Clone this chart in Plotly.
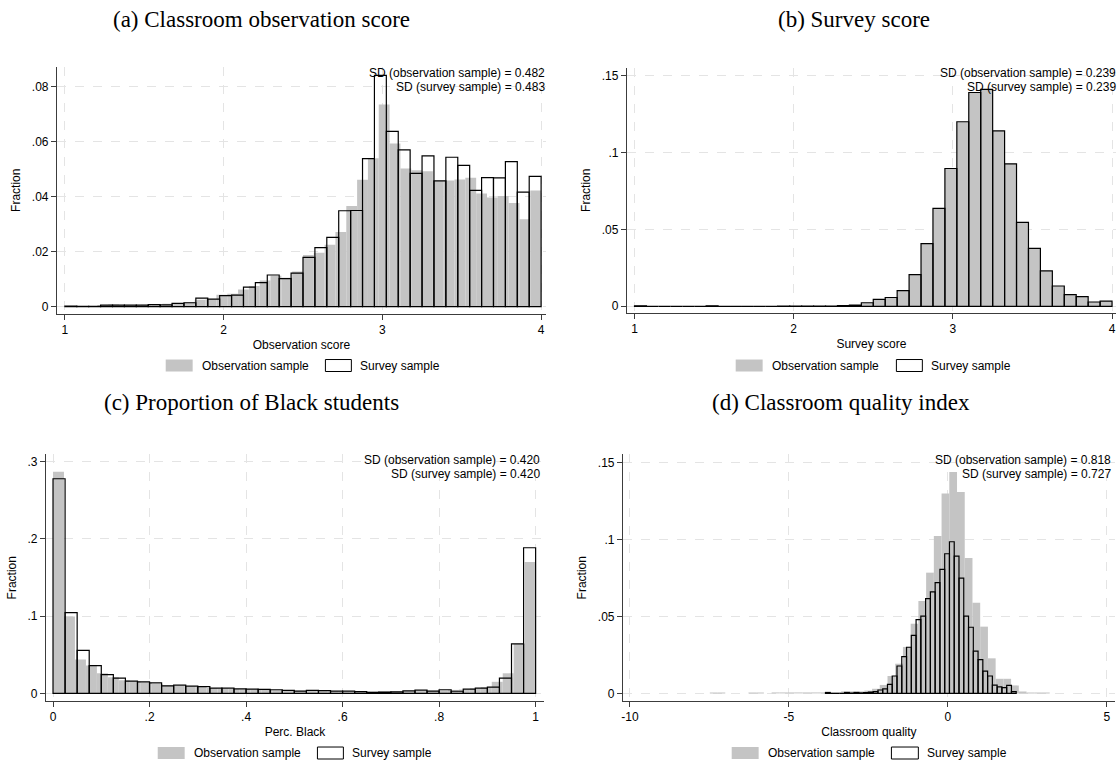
import plotly.graph_objects as go

W, H = 1119, 765

# ---------------- Data (fractions per histogram bin) ----------------
# Panel (a): Observation score
A_OBS_START, A_OBS_WIDTH = 1.0, 3.0 / 44
A_OBS = [0.0002, 0.0001, 0.0002, 0.0004, 0.0008, 0.0005, 0.0005, 0.0007, 0.0006, 0.0010,
         0.0013, 0.0017, 0.0025, 0.0027, 0.0043, 0.0047, 0.0062, 0.0075, 0.0095, 0.0112,
         0.0105, 0.0128, 0.0188, 0.0196, 0.0225, 0.0272, 0.0366, 0.0462, 0.0540, 0.0736,
         0.0594, 0.0503, 0.0497, 0.0493, 0.0458, 0.0459, 0.0463, 0.0469, 0.0412, 0.0397,
         0.0403, 0.0377, 0.0318, 0.0423]
A_SUR_START, A_SUR_WIDTH = 1.0, 0.075
A_SUR = [0.0002, 0.0001, 0.0001, 0.0005, 0.0005, 0.0005, 0.0005, 0.0007, 0.0006, 0.0012,
         0.0014, 0.0031, 0.0027, 0.0040, 0.0042, 0.0071, 0.0087, 0.0115, 0.0102, 0.0122,
         0.0179, 0.0215, 0.0252, 0.0349, 0.0350, 0.0539, 0.0842, 0.0638, 0.0571, 0.0485,
         0.0549, 0.0458, 0.0544, 0.0514, 0.0423, 0.0470, 0.0469, 0.0528, 0.0417, 0.0474]

# Panel (b): Survey score
B_OBS_START, B_OBS_WIDTH = 1.0, 0.075
B_OBS = [0.0003, 0.0, 0.0, 0.0, 0.0, 0.0, 0.0003, 0.0, 0.0, 0.0,
         0.0, 0.0, 0.0002, 0.0002, 0.0001, 0.0001, 0.0002, 0.0004, 0.0008, 0.0023,
         0.0045, 0.0057, 0.0102, 0.0206, 0.0408, 0.0636, 0.0896, 0.1200, 0.1390, 0.1410,
         0.1141, 0.0926, 0.0545, 0.0377, 0.0230, 0.0132, 0.0076, 0.0063, 0.0028, 0.0033]
B_SUR_START, B_SUR_WIDTH = 1.0, 0.075
B_SUR = [0.0003, 0.0, 0.0, 0.0, 0.0, 0.0, 0.0003, 0.0, 0.0, 0.0,
         0.0, 0.0, 0.0002, 0.0002, 0.0001, 0.0001, 0.0002, 0.0004, 0.0008, 0.0023,
         0.0045, 0.0057, 0.0102, 0.0206, 0.0408, 0.0636, 0.0896, 0.1200, 0.1390, 0.1410,
         0.1141, 0.0926, 0.0545, 0.0377, 0.0230, 0.0132, 0.0076, 0.0063, 0.0028, 0.0033]

# Panel (c): Proportion of Black students
C_OBS_START, C_OBS_WIDTH = 0.0, 1.0 / 44
C_OBS = [0.2870, 0.0996, 0.0440, 0.0360, 0.0260, 0.0210, 0.0170, 0.0155, 0.0140, 0.0120,
         0.0105, 0.0095, 0.0090, 0.0085, 0.0070, 0.0062, 0.0058, 0.0052, 0.0050, 0.0045,
         0.0042, 0.0035, 0.0035, 0.0038, 0.0030, 0.0028, 0.0025, 0.0022, 0.0020, 0.0018,
         0.0020, 0.0025, 0.0028, 0.0032, 0.0035, 0.0038, 0.0045, 0.0050, 0.0065, 0.0080,
         0.0150, 0.0260, 0.0640, 0.1700]
C_SUR_START, C_SUR_WIDTH = 0.0, 0.025
C_SUR = [0.2780, 0.1045, 0.0557, 0.0360, 0.0242, 0.0198, 0.0160, 0.0149, 0.0136, 0.0098,
         0.0106, 0.0093, 0.0088, 0.0067, 0.0067, 0.0058, 0.0056, 0.0052, 0.0047, 0.0038,
         0.0030, 0.0040, 0.0036, 0.0030, 0.0030, 0.0022, 0.0013, 0.0017, 0.0020, 0.0032,
         0.0041, 0.0030, 0.0047, 0.0028, 0.0056, 0.0069, 0.0082, 0.0198, 0.0642, 0.1886]

# Panel (d): Classroom quality index
D_OBS_START, D_OBS_WIDTH = -7.488, 0.243
D_OBS = [0.0004, 0.0004, 0.0, 0.0, 0.0, 0.0003, 0.0003, 0.0, 0.0003, 0.0003,
         0.0003, 0.0003, 0.0004, 0.0004, 0.0005, 0.0005, 0.0006, 0.0008, 0.0010, 0.0012,
         0.0018, 0.0030, 0.0055, 0.0113, 0.0193, 0.0302, 0.0453, 0.0600, 0.0785, 0.1023,
         0.1300, 0.1440, 0.1310, 0.0880, 0.0590, 0.0434, 0.0228, 0.0095, 0.0095, 0.0052,
         0.0008, 0.0006, 0.0006, 0.0004]
D_SUR_START, D_SUR_WIDTH = -3.85, 0.15
D_SUR = [0.0006, 0.0, 0.0, 0.0, 0.0006, 0.0002, 0.0006, 0.0003, 0.0005, 0.0008,
         0.0011, 0.0022, 0.0030, 0.0059, 0.0113, 0.0178, 0.0239, 0.0300, 0.0377, 0.0480,
         0.0503, 0.0616, 0.0660, 0.0720, 0.0806, 0.0908, 0.0986, 0.0893, 0.0750, 0.0503,
         0.0430, 0.0275, 0.0220, 0.0145, 0.0113, 0.0054, 0.0043, 0.0037, 0.0052, 0.0011]

TITLES = ["(a) Classroom observation score", "(b) Survey score",
          "(c) Proportion of Black students", "(d) Classroom quality index"]
XTITLES = ["Observation score", "Survey score", "Perc. Black", "Classroom quality"]
SD_OBS = ["0.482", "0.239", "0.420", "0.818"]
SD_SUR = ["0.483", "0.239", "0.420", "0.727"]
X_TICKS = [[1, 2, 3, 4], [1, 2, 3, 4], [0, 0.2, 0.4, 0.6, 0.8, 1], [-10, -5, 0, 5]]
X_TICKTEXT = [["1", "2", "3", "4"], ["1", "2", "3", "4"],
              ["0", ".2", ".4", ".6", ".8", "1"], ["-10", "-5", "0", "5"]]
Y_TICKS = [[0, 0.02, 0.04, 0.06, 0.08], [0, 0.05, 0.1, 0.15], [0, 0.1, 0.2, 0.3], [0, 0.05, 0.1, 0.15]]
Y_TICKTEXT = [["0", ".02", ".04", ".06", ".08"], ["0", ".05", ".1", ".15"],
              ["0", ".1", ".2", ".3"], ["0", ".05", ".1", ".15"]]
LEGEND_LABELS = ["Observation sample", "Survey sample"]

# ---------------- Layout (pixels) ----------------
PANELS = [
    dict(xd=(55, 545), yd=(67, 314), xr=(0.9497, 4.031), yr=(-0.00255, 0.0873),
         title=(260, 20), sd_x=545, sd_y=(73.5, 87.5), leg_y=366,
         leg=(164, 191, 198, 324, 350, 357)),
    dict(xd=(626, 1116), yd=(68, 313), xr=(0.952, 4.025), yr=(-0.0041, 0.155),
         title=(854, 20), sd_x=1117, sd_y=(73.5, 87.5), leg_y=366,
         leg=(735, 762, 769, 896, 922, 929)),
    dict(xd=(44, 543), yd=(455, 702), xr=(-0.0147, 1.0174), yr=(-0.00997, 0.3095),
         title=(250, 403), sd_x=540, sd_y=(460.5, 474.5), leg_y=754,
         leg=(156, 183, 190, 316, 342, 349)),
    dict(xd=(622, 1115), yd=(455, 702), xr=(-10.223, 5.258), yr=(-0.005, 0.1554),
         title=(841, 403), sd_x=1112, sd_y=(460.5, 474.5), leg_y=754,
         leg=(731, 758, 765, 891, 918, 925)),
]

DATA = [(A_OBS_START, A_OBS_WIDTH, A_OBS, A_SUR_START, A_SUR_WIDTH, A_SUR),
        (B_OBS_START, B_OBS_WIDTH, B_OBS, B_SUR_START, B_SUR_WIDTH, B_SUR),
        (C_OBS_START, C_OBS_WIDTH, C_OBS, C_SUR_START, C_SUR_WIDTH, C_SUR),
        (D_OBS_START, D_OBS_WIDTH, D_OBS, D_SUR_START, D_SUR_WIDTH, D_SUR)]

GRAY = "rgb(196,196,196)"
AXIS_COLOR = "rgb(60,60,60)"
GRID_COLOR = "rgb(228,228,228)"
SANS = "Liberation Sans, Arial, sans-serif"
SERIF = "Liberation Serif, Times New Roman, serif"


def fx(px):
    return px / W


def fy(py):
    return 1 - py / H


fig = go.Figure()
layout = dict(width=W, height=H, margin=dict(l=0, r=0, t=0, b=0),
              paper_bgcolor="white", plot_bgcolor="white", barmode="overlay",
              showlegend=False, font=dict(family=SANS, size=12, color="black"))
annotations = []
shapes = []

for i, (p, d) in enumerate(zip(PANELS, DATA)):
    n = "" if i == 0 else str(i + 1)
    xa, ya = "x" + n, "y" + n
    os_, ow, ov, ss, sw, sv = d
    ox = [os_ + ow * (k + 0.5) for k in range(len(ov))]
    sx = [ss + sw * (k + 0.5) for k in range(len(sv))]
    fig.add_trace(go.Bar(x=ox, y=ov, width=ow, xaxis=xa, yaxis=ya,
                         marker=dict(color=GRAY, line=dict(width=0)),
                         name=LEGEND_LABELS[0]))
    fig.add_trace(go.Bar(x=sx, y=sv, width=sw, xaxis=xa, yaxis=ya,
                         marker=dict(color="rgba(0,0,0,0)", line=dict(color="black", width=1.2)),
                         name=LEGEND_LABELS[1]))
    common = dict(showline=True, linecolor=AXIS_COLOR, linewidth=1, ticks="outside",
                  ticklen=5, tickcolor=AXIS_COLOR, showgrid=True, gridcolor=GRID_COLOR,
                  griddash="dash", gridwidth=1, zeroline=False,
                  tickfont=dict(size=12, family=SANS, color="black"))
    layout["xaxis" + n] = dict(common, domain=[fx(p["xd"][0]), fx(p["xd"][1])],
                               range=list(p["xr"]), anchor=ya,
                               tickmode="array", tickvals=X_TICKS[i], ticktext=X_TICKTEXT[i],
                               title=dict(text=XTITLES[i], standoff=4,
                                          font=dict(size=12, family=SANS)))
    layout["yaxis" + n] = dict(common, domain=[fy(p["yd"][1]), fy(p["yd"][0])],
                               range=list(p["yr"]), anchor=xa,
                               tickmode="array", tickvals=Y_TICKS[i], ticktext=Y_TICKTEXT[i],
                               title=dict(text="Fraction", standoff=8,
                                          font=dict(size=12, family=SANS)))
    # panel title
    annotations.append(dict(text=TITLES[i], x=fx(p["title"][0]), y=fy(p["title"][1]),
                            xref="paper", yref="paper", showarrow=False,
                            xanchor="center", yanchor="middle",
                            font=dict(family=SERIF, size=23, color="black")))
    # SD texts
    annotations.append(dict(text="SD (observation sample) = " + SD_OBS[i],
                            x=fx(p["sd_x"]), y=fy(p["sd_y"][0]), xref="paper", yref="paper",
                            showarrow=False, xanchor="right", yanchor="middle", borderpad=0,
                            font=dict(size=12, family=SANS)))
    annotations.append(dict(text="SD (survey sample) = " + SD_SUR[i],
                            x=fx(p["sd_x"]), y=fy(p["sd_y"][1]), xref="paper", yref="paper",
                            showarrow=False, xanchor="right", yanchor="middle", borderpad=0,
                            font=dict(size=12, family=SANS)))
    # legend (drawn)
    g0, g1, gt, s0, s1, st = p["leg"]
    ly = p["leg_y"]
    shapes.append(dict(type="rect", xref="paper", yref="paper",
                       x0=fx(g0), x1=fx(g1), y0=fy(ly + 6), y1=fy(ly - 6),
                       fillcolor=GRAY, line=dict(width=0)))
    shapes.append(dict(type="rect", xref="paper", yref="paper",
                       x0=fx(s0), x1=fx(s1), y0=fy(ly + 6), y1=fy(ly - 6),
                       fillcolor="white", line=dict(color="black", width=1)))
    annotations.append(dict(text=LEGEND_LABELS[0], x=fx(gt), y=fy(ly), xref="paper", yref="paper",
                            showarrow=False, xanchor="left", yanchor="middle",
                            font=dict(size=12, family=SANS)))
    annotations.append(dict(text=LEGEND_LABELS[1], x=fx(st), y=fy(ly), xref="paper", yref="paper",
                            showarrow=False, xanchor="left", yanchor="middle",
                            font=dict(size=12, family=SANS)))

layout["annotations"] = annotations
layout["shapes"] = shapes
fig.update_layout(**layout)
fig.write_html("out.html")
